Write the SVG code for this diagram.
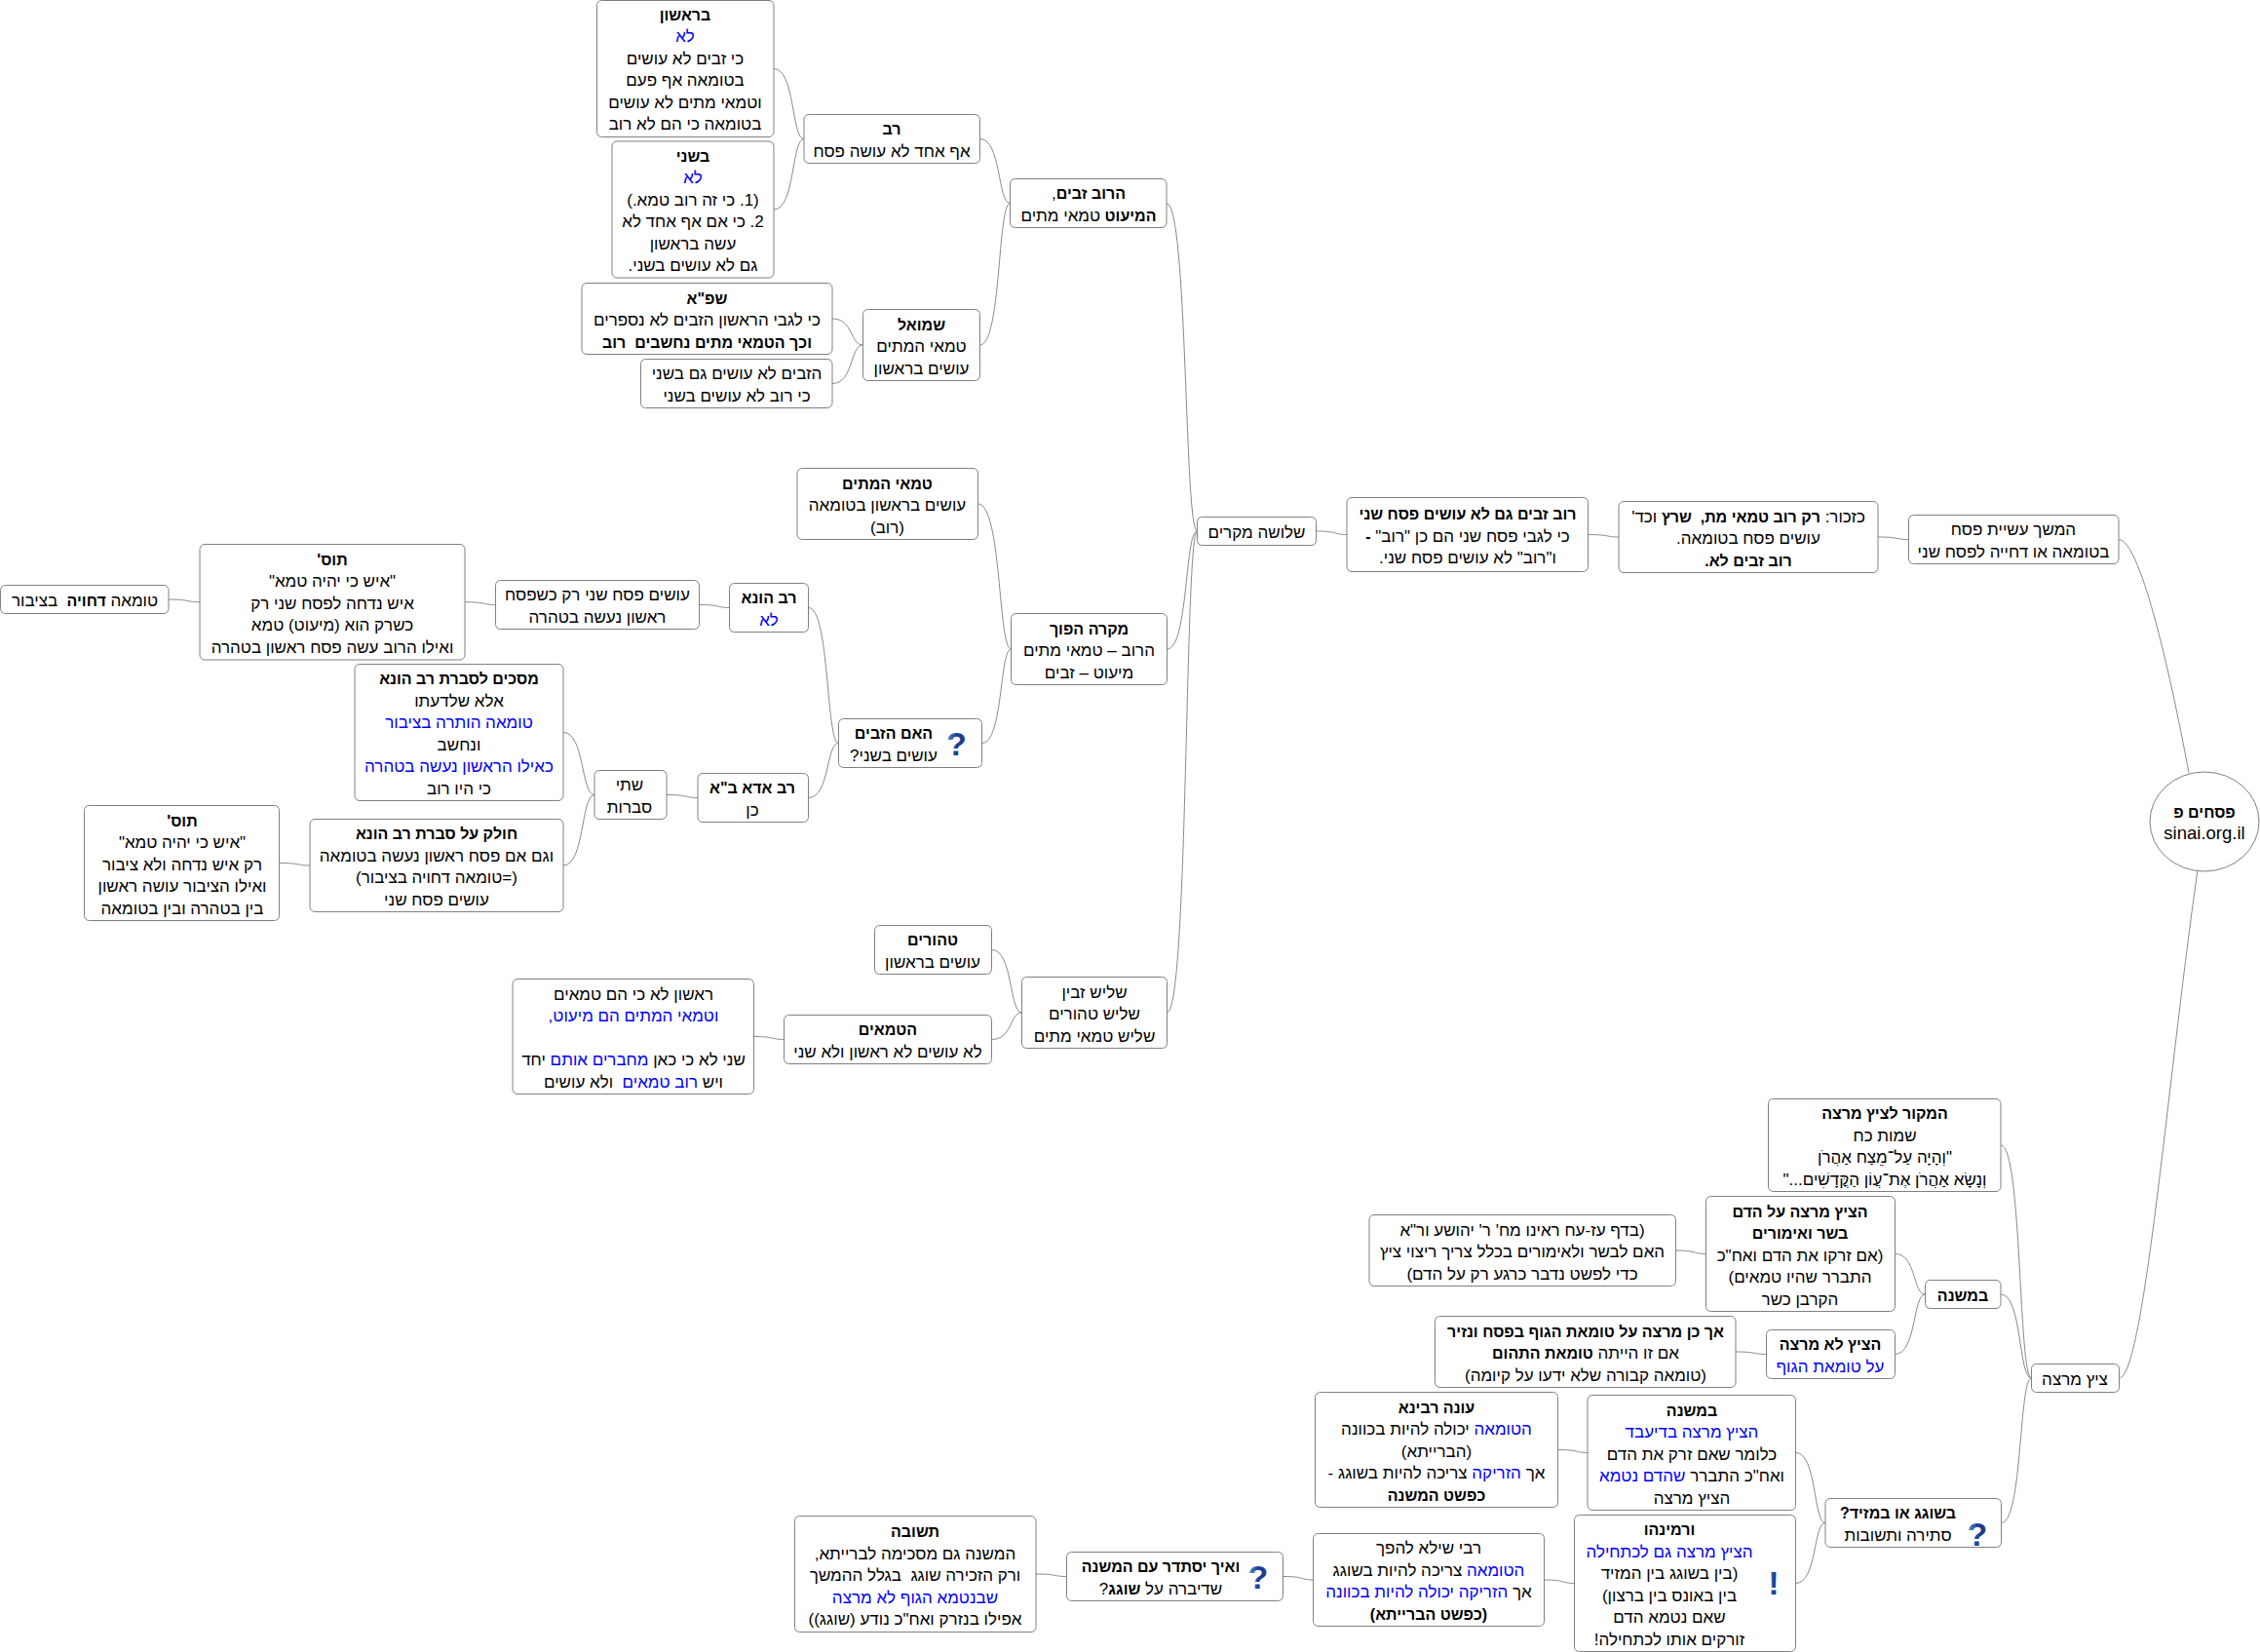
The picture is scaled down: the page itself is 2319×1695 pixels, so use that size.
<svg xmlns="http://www.w3.org/2000/svg" width="2319" height="1695" viewBox="0 0 2319 1695">
<style>
text{font-family:"Liberation Sans",Arial,sans-serif;font-size:17px;text-anchor:middle;direction:rtl;white-space:pre;fill:#000}
.b{font-weight:bold;font-size:16px}
.n{font-weight:normal;font-size:17px}
.c{fill:#0000ff}
rect,ellipse{fill:#fff;stroke:#808080;stroke-width:1}
rect{rx:5px;ry:5px}
#connectors path{fill:none;stroke:#8a8a8a;stroke-width:1}
.i{font-weight:bold;font-size:34px;fill:url(#ig);direction:ltr}
.l{font-size:18.5px;direction:ltr}
</style>
<defs>
<linearGradient id="ig" x1="0" y1="0" x2="1" y2="0"><stop offset="0" stop-color="#5a9ac8"/><stop offset="0.5" stop-color="#1a3f9c"/><stop offset="1" stop-color="#2a3a70"/></linearGradient>
</defs>
<g id="connectors">
<path d="M794,70.5C816,70.5 812,142.5 825,142.5"/>
<path d="M794,215C816,215 812,142.5 825,142.5"/>
<path d="M1005.5,142.5C1027.5,142.5 1023.5,208.5 1036.5,208.5"/>
<path d="M1005.5,354C1027.5,354 1023.5,208.5 1036.5,208.5"/>
<path d="M854,327C876,327 872,354 885.5,354"/>
<path d="M854,393.5C876,393.5 872,354 885.5,354"/>
<path d="M1197,208.5C1219,208.5 1215,545 1228.5,545"/>
<path d="M1003.5,517C1028,517 1024,666 1037.5,666"/>
<path d="M1007.5,762.5C1029.5,762.5 1025.5,666 1037.5,666"/>
<path d="M1197.5,666C1219.5,666 1215.5,545 1228.5,545"/>
<path d="M1197.5,1039C1219.5,1039 1215.5,545 1228.5,545"/>
<path d="M1017.5,974.5C1039.5,974.5 1035.5,1039 1048.5,1039"/>
<path d="M1017.5,1066.5C1039.5,1066.5 1035.5,1039 1048.5,1039"/>
<path d="M773.5,1063.5C795.5,1063.5 791.5,1066.5 804.5,1066.5"/>
<path d="M829.5,623.5C851.5,623.5 847.5,762.5 860.5,762.5"/>
<path d="M829.5,818.5C851.5,818.5 847.5,762.5 860.5,762.5"/>
<path d="M717.5,620.5C739.5,620.5 735.5,623.5 748.5,623.5"/>
<path d="M477,617.75C499,617.75 495,620.5 508.5,620.5"/>
<path d="M173,615C195,615 191,617.75 205,617.75"/>
<path d="M684,815.5C706,815.5 702,818.5 716,818.5"/>
<path d="M578,751.5C600,751.5 596,815.5 610,815.5"/>
<path d="M578,888C600,888 596,815.5 610,815.5"/>
<path d="M286.5,885.5C308.5,885.5 304.5,888 318,888"/>
<path d="M1350.5,545C1372.5,545 1368.5,548.5 1382,548.5"/>
<path d="M1629.5,548.5C1651.5,548.5 1647.5,551 1661,551"/>
<path d="M1927,551C1949,551 1945,553.5 1958.5,553.5"/>
<path d="M2174,553.5C2195,553.5 2225,680 2246,793"/>
<path d="M2174.5,1414C2200,1414 2225,1100 2255,893"/>
<path d="M2053,1175C2075,1175 2071,1414 2084.5,1414"/>
<path d="M2053,1328C2075,1328 2071,1414 2084.5,1414"/>
<path d="M2053.5,1562.5C2075.5,1562.5 2071.5,1414 2084.5,1414"/>
<path d="M1944.5,1286.5C1966.5,1286.5 1962.5,1328 1975.5,1328"/>
<path d="M1944.5,1389.5C1966.5,1389.5 1962.5,1328 1975.5,1328"/>
<path d="M1719.5,1283C1741.5,1283 1737.5,1286.5 1750.5,1286.5"/>
<path d="M1781,1387C1803,1387 1799,1389.5 1812.5,1389.5"/>
<path d="M1598.5,1487.5C1620.5,1487.5 1616.5,1490.5 1629,1490.5"/>
<path d="M1842.5,1490.5C1864.5,1490.5 1860.5,1562.5 1873,1562.5"/>
<path d="M1842.5,1624.5C1864.5,1624.5 1860.5,1562.5 1873,1562.5"/>
<path d="M1584.5,1621C1606.5,1621 1602.5,1624.5 1615.5,1624.5"/>
<path d="M1316.5,1617.5C1338.5,1617.5 1334.5,1621 1347.5,1621"/>
<path d="M1063,1615C1085,1615 1081,1617.5 1094.5,1617.5"/>
</g>
<g id="n1"><rect x="612.5" y="0.5" width="181.5" height="140"/>
<text class="b" x="703" y="20.75">בראשון</text><text class="c" x="703" y="43.25">לא</text><text x="703" y="65.75">כי זבים לא עושים</text><text x="703" y="88.25">בטומאה אף פעם</text><text x="703" y="110.75">וטמאי מתים לא עושים</text><text x="703" y="133.25">בטומאה כי הם לא רוב</text></g>
<g id="n2"><rect x="628" y="145" width="166" height="140"/>
<text class="b" x="711" y="165.75">בשני</text><text class="c" x="711" y="188.25">לא</text><text x="711" y="210.75">(1. כי זה רוב טמא.)</text><text x="711" y="233.25">2. כי אם אף אחד לא</text><text x="711" y="255.75">עשה בראשון</text><text x="711" y="278.25">גם לא עושים בשני.</text></g>
<g id="n3"><rect x="825" y="117.5" width="180.5" height="50"/>
<text class="b" x="915" y="138.25">רב</text><text x="915" y="160.75">אף אחד לא עושה פסח</text></g>
<g id="n4"><rect x="1036.5" y="183.5" width="160.5" height="50"/>
<text x="1117" y="204.25"><tspan class="b">הרוב זבים</tspan>,</text><text class="b" x="1117" y="226.75">המיעוט <tspan class="n">טמאי מתים</tspan></text></g>
<g id="n5"><rect x="597" y="290.5" width="257" height="73"/>
<text class="b" x="725.5" y="311.5">שפ"א</text><text x="725.5" y="334">כי לגבי הראשון הזבים לא נספרים</text><text class="b" x="725.5" y="356.5">וכך הטמאי מתים נחשבים  רוב</text></g>
<g id="n6"><rect x="657.5" y="368.5" width="196.5" height="50"/>
<text x="756" y="389.25">הזבים לא עושים גם בשני</text><text x="756" y="411.75">כי רוב לא עושים בשני</text></g>
<g id="n7"><rect x="885.5" y="317.5" width="120" height="73"/>
<text class="b" x="945.5" y="338.5">שמואל</text><text x="945.5" y="361">טמאי המתים</text><text x="945.5" y="383.5">עושים בראשון</text></g>
<g id="n8"><rect x="818" y="480.5" width="185.5" height="73"/>
<text class="b" x="910.5" y="501.5">טמאי המתים</text><text x="910.5" y="524">עושים בראשון בטומאה</text><text x="910.5" y="546.5">(רוב)</text></g>
<g id="n9"><rect x="205" y="558.5" width="272" height="118.5"/>
<text class="b" x="341" y="579.75">תוס'</text><text x="341" y="602.25">"איש כי יהיה טמא"</text><text x="341" y="624.75">איש נדחה לפסח שני רק</text><text x="341" y="647.25">כשרק הוא (מיעוט) טמא</text><text x="341" y="669.75">ואילו הרוב עשה פסח ראשון בטהרה</text></g>
<g id="n10"><rect x="0.5" y="600.5" width="172.5" height="29"/>
<text x="87" y="622">טומאה <tspan class="b">דחויה</tspan>  בציבור</text></g>
<g id="n11"><rect x="508.5" y="595.5" width="209" height="50"/>
<text x="613" y="616.25">עושים פסח שני רק כשפסח</text><text x="613" y="638.75">ראשון נעשה בטהרה</text></g>
<g id="n12"><rect x="748.5" y="598.5" width="81" height="50"/>
<text class="b" x="789" y="619.25">רב הונא</text><text class="c" x="789" y="641.75">לא</text></g>
<g id="n13"><rect x="364" y="681.5" width="214" height="140"/>
<text class="b" x="471" y="702.25">מסכים לסברת רב הונא</text><text x="471" y="724.75">אלא שלדעתו</text><text class="c" x="471" y="747.25">טומאה הותרה בציבור</text><text x="471" y="769.75">ונחשב</text><text class="c" x="471" y="792.25">כאילו הראשון נעשה בטהרה</text><text x="471" y="814.75">כי היו רוב</text></g>
<g id="n14"><rect x="610" y="790.5" width="74" height="50"/>
<text x="646" y="811.25">שתי</text><text x="646" y="833.75">סברות</text></g>
<g id="n15"><rect x="716" y="793.5" width="113.5" height="50"/>
<text class="b" x="772" y="814.25">רב אדא ב"א</text><text x="772" y="836.75">כן</text></g>
<g id="n16"><rect x="860.5" y="737.5" width="147" height="50"/>
<text class="b" x="917" y="758.25">האם הזבים</text><text x="917" y="780.75">עושים בשני?</text><text class="i" x="981.5" y="775">?</text></g>
<g id="n17"><rect x="1037.5" y="629.5" width="160" height="73"/>
<text class="b" x="1117.5" y="650.5">מקרה הפוך</text><text x="1117.5" y="673">הרוב – טמאי מתים</text><text x="1117.5" y="695.5">מיעוט – זבים</text></g>
<g id="n18"><rect x="86.5" y="826.5" width="200" height="118"/>
<text class="b" x="187" y="847.5">תוס'</text><text x="187" y="870">"איש כי יהיה טמא"</text><text x="187" y="892.5">רק איש נדחה ולא ציבור</text><text x="187" y="915">ואילו הציבור עושה ראשון</text><text x="187" y="937.5">בין בטהרה ובין בטומאה</text></g>
<g id="n19"><rect x="318" y="840.5" width="260" height="95"/>
<text class="b" x="448" y="861.25">חולק על סברת רב הונא</text><text x="448" y="883.75">וגם אם פסח ראשון נעשה בטומאה</text><text x="448" y="906.25">(=טומאה דחויה בציבור)</text><text x="448" y="928.75">עושים פסח שני</text></g>
<g id="n20"><rect x="897.5" y="949.5" width="120" height="50"/>
<text class="b" x="957" y="970.25">טהורים</text><text x="957" y="992.75">עושים בראשון</text></g>
<g id="n21"><rect x="804.5" y="1041.5" width="213" height="50"/>
<text class="b" x="911" y="1062.25">הטמאים</text><text x="911" y="1084.75">לא עושים לא ראשון ולא שני</text></g>
<g id="n22"><rect x="526" y="1004.5" width="247.5" height="118"/>
<text x="650" y="1025.5">ראשון לא כי הם טמאים</text><text class="c" x="650" y="1048">וטמאי המתים הם מיעוט,</text><text x="650" y="1093">שני לא כי כאן <tspan class="c">מחברים אותם</tspan> יחד</text><text x="650" y="1115.5">ויש <tspan class="c">רוב טמאים</tspan>  ולא עושים</text></g>
<g id="n23"><rect x="1048.5" y="1002.5" width="149" height="73"/>
<text x="1123" y="1023.5">שליש זבין</text><text x="1123" y="1046">שליש טהורים</text><text x="1123" y="1068.5">שליש טמאי מתים</text></g>
<g id="n24"><rect x="1228.5" y="530.5" width="122" height="29"/>
<text x="1289.5" y="552">שלושה מקרים</text></g>
<g id="n25"><rect x="1382" y="510.5" width="247.5" height="76"/>
<text class="b" x="1506" y="533">רוב זבים גם לא עושים פסח שני</text><text x="1506" y="555.5">כי לגבי פסח שני הם כן "רוב" <tspan class="b">-</tspan></text><text x="1506" y="578">ו"רוב" לא עושים פסח שני.</text></g>
<g id="n26"><rect x="1661" y="514.5" width="266" height="73"/>
<text x="1794" y="535.5">כזכור: <tspan class="b">רק רוב טמאי מת,  שרץ</tspan> וכד'</text><text x="1794" y="558">עושים פסח בטומאה.</text><text class="b" x="1794" y="580.5">רוב זבים לא.</text></g>
<g id="n27"><rect x="1958.5" y="528.5" width="215.5" height="50"/>
<text x="2066" y="549.25">המשך עשיית פסח</text><text x="2066" y="571.75">בטומאה או דחייה לפסח שני</text></g>
<g id="n28"><ellipse cx="2262" cy="843" rx="56" ry="51"/>
<text class="b" x="2262" y="838.75">פסחים פ</text><text class="l" x="2262" y="861.25">sinai.org.il</text></g>
<g id="n29"><rect x="1814.5" y="1127.5" width="238.5" height="95"/>
<text class="b" x="1934" y="1148.25">המקור לציץ מרצה</text><text x="1934" y="1170.75">שמות כח</text><text x="1934" y="1193.25">"וְהָיָה עַל־מֵצַח אַהֲרֹן</text><text x="1934" y="1215.75">וְנָשָׂא אַהֲרֹן אֶת־עֲוֹן הַקֳּדָשִׁים..."</text></g>
<g id="n30"><rect x="1750.5" y="1227.5" width="194" height="118"/>
<text class="b" x="1847" y="1248.5">הציץ מרצה על הדם</text><text class="b" x="1847" y="1271">בשר ואימורים</text><text x="1847" y="1293.5">(אם זרקו את הדם ואח"כ</text><text x="1847" y="1316">התברר שהיו טמאים)</text><text x="1847" y="1338.5">הקרבן כשר</text></g>
<g id="n31"><rect x="1405" y="1246.5" width="314.5" height="73"/>
<text x="1562" y="1267.5">(בדף עז-עח ראינו מח' ר' יהושע ור"א</text><text x="1562" y="1290">האם לבשר ולאימורים בכלל צריך ריצוי ציץ</text><text x="1562" y="1312.5">כדי לפשט נדבר כרגע רק על הדם)</text></g>
<g id="n32"><rect x="1975.5" y="1313.5" width="77.5" height="29"/>
<text class="b" x="2014" y="1335">במשנה</text></g>
<g id="n33"><rect x="1472.5" y="1350.5" width="308.5" height="73"/>
<text class="b" x="1627" y="1371.5">אך כן מרצה על טומאת הגוף בפסח ונזיר</text><text x="1627" y="1394">אם זו הייתה <tspan class="b">טומאת התהום</tspan></text><text x="1627" y="1416.5">(טומאה קבורה שלא ידעו על קיומה)</text></g>
<g id="n34"><rect x="1812.5" y="1364.5" width="132" height="50"/>
<text class="b" x="1878" y="1385.25">הציץ לא מרצה</text><text class="c" x="1878" y="1407.75">על טומאת הגוף</text></g>
<g id="n35"><rect x="2084.5" y="1399.5" width="90" height="29"/>
<text x="2129" y="1421">ציץ מרצה</text></g>
<g id="n36"><rect x="1349.5" y="1428.5" width="249" height="118"/>
<text class="b" x="1474" y="1449.5">עונה רבינא</text><text x="1474" y="1472"><tspan class="c">הטומאה</tspan> יכולה להיות בכוונה</text><text x="1474" y="1494.5">(הברייתא)</text><text x="1474" y="1517">אך <tspan class="c">הזריקה</tspan> צריכה להיות בשוגג -</text><text class="b" x="1474" y="1539.5">כפשט המשנה</text></g>
<g id="n37"><rect x="1629" y="1431.5" width="213.5" height="118"/>
<text class="b" x="1736" y="1452.5">במשנה</text><text class="c" x="1736" y="1475">הציץ מרצה בדיעבד</text><text x="1736" y="1497.5">כלומר שאם זרק את הדם</text><text x="1736" y="1520">ואח"כ התברר <tspan class="c">שהדם נטמא</tspan></text><text x="1736" y="1542.5">הציץ מרצה</text></g>
<g id="n38"><rect x="1873" y="1537.5" width="180.5" height="50"/>
<text class="b" x="1947.5" y="1558.25">בשוגג או במזיד?</text><text x="1947.5" y="1580.75">סתירה ותשובות</text><text class="i" x="2029" y="1586">?</text></g>
<g id="n39"><rect x="1615.5" y="1554.5" width="227" height="140"/>
<text class="b" x="1713" y="1575.25">ורמינהו</text><text class="c" x="1713" y="1597.75">הציץ מרצה גם לכתחילה</text><text x="1713" y="1620.25">(בין בשוגג בין המזיד</text><text x="1713" y="1642.75">בין באונס בין ברצון)</text><text x="1713" y="1665.25">שאם נטמא הדם</text><text x="1713" y="1687.75">זורקים אותו לכתחילה!</text><text class="i" x="1820" y="1636">!</text></g>
<g id="n40"><rect x="1347.5" y="1573.5" width="237" height="95"/>
<text x="1466" y="1594.25">רבי שילא להפך</text><text x="1466" y="1616.75"><tspan class="c">הטומאה</tspan> צריכה להיות בשוגג</text><text x="1466" y="1639.25">אך <tspan class="c">הזריקה יכולה להיות בכוונה</tspan></text><text class="b" x="1466" y="1661.75">(כפשט הברייתא)</text></g>
<g id="n41"><rect x="1094.5" y="1592.5" width="222" height="50"/>
<text class="b" x="1191" y="1613.25">ואיך יסתדר עם המשנה</text><text x="1191" y="1635.75">שדיברה על <tspan class="b">שוגג</tspan>?</text><text class="i" x="1291" y="1630">?</text></g>
<g id="n42"><rect x="815.5" y="1555.5" width="247.5" height="119"/>
<text class="b" x="939" y="1577">תשובה</text><text x="939" y="1599.5">המשנה גם מסכימה לברייתא,</text><text x="939" y="1622">ורק הזכירה שוגג  בגלל ההמשך</text><text class="c" x="939" y="1644.5">שבנטמא הגוף לא מרצה</text><text x="939" y="1667">אפילו בנזרק ואח"כ נודע (שוגג))</text></g>
</svg>
